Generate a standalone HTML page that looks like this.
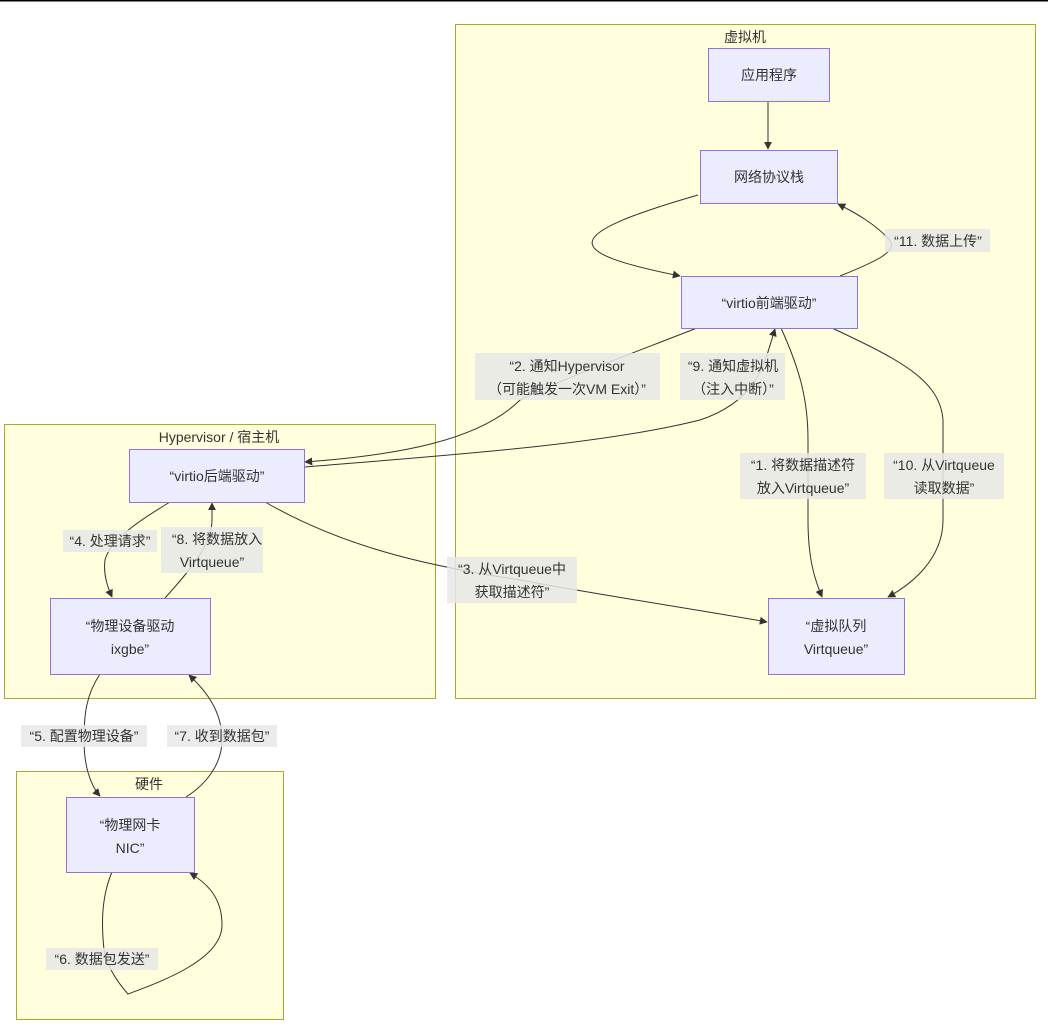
<!DOCTYPE html>
<html><head><meta charset="utf-8"><style>
html,body{margin:0;padding:0;background:#fff;}
svg{display:block;}
text{font-family:"Liberation Sans","Noto Sans CJK SC",sans-serif;font-size:14px;fill:#333;}
.c{fill:#ffffde;stroke:#aaaa33;stroke-width:1;}
.n{fill:#ececff;stroke:#9370db;stroke-width:1;}
.e{fill:none;stroke:#333;stroke-width:1;}
.lb{fill:#e8e8e8;opacity:0.85;}
</style></head><body>
<svg width="1048" height="1026" viewBox="0 0 1048 1026" xmlns="http://www.w3.org/2000/svg">
<defs><marker id="a" viewBox="0 0 10 10" refX="9" refY="5" markerWidth="8" markerHeight="8" orient="auto"><path d="M0,0L10,5L0,10z" fill="#333"/></marker></defs>
<rect x="0" y="0" width="1048" height="1.5" fill="#000"/>
<rect class="c" x="455.5" y="24.5" width="580" height="674"/>
<rect class="c" x="4.5" y="424.5" width="431" height="274"/>
<rect class="c" x="16.5" y="771.5" width="267" height="248"/>
<text x="745" y="42" text-anchor="middle">虚拟机</text>
<text x="219" y="442" text-anchor="middle">Hypervisor / 宿主机</text>
<text x="149" y="789" text-anchor="middle">硬件</text>

<path class="e" marker-end="url(#a)" d="M768,101L768,149"/>
<path class="e" marker-end="url(#a)" d="M698,195C560,235 560,252 680,276"/>
<path class="e" marker-end="url(#a)" d="M840,276C880,260 900,250 888,238C875,225 860,215 838,204"/>
<path class="e" marker-end="url(#a)" d="M697,328C620,358 560,380 520,400C480,440 400,455 305,462"/>
<path class="e" marker-end="url(#a)" d="M305,467C450,455 600,445 700,420C760,400 765,360 775,329"/>
<path class="e" marker-end="url(#a)" d="M781,328C800,370 808,400 808,440L808,520C808,560 815,580 822,597"/>
<path class="e" marker-end="url(#a)" d="M832,328C900,360 940,380 943,420L943,520C943,560 910,585 888,597"/>
<path class="e" marker-end="url(#a)" d="M265,502C340,545 420,565 520,580C600,595 700,610 767,622"/>
<path class="e" marker-end="url(#a)" d="M170,502C140,520 110,540 105,560C103,575 108,588 112,597"/>
<path class="e" marker-end="url(#a)" d="M165,598C190,570 212,545 212,520L212,503"/>
<path class="e" marker-end="url(#a)" d="M100,674C86,695 84,715 84,740C84,765 90,785 100,796"/>
<path class="e" marker-end="url(#a)" d="M186,797C205,785 222,765 222,740C222,710 205,690 189,675"/>
<path class="e" marker-end="url(#a)" d="M112,872C100,900 102,930 104,950C108,970 120,985 128,994C160,982 222,960 222,925C222,900 210,885 190,873"/>

<rect class="n" x="708.5" y="48.5" width="121" height="53"/>
<text x="769" y="80" text-anchor="middle">应用程序</text>
<rect class="n" x="700.5" y="150.5" width="137" height="53"/>
<text x="769" y="182" text-anchor="middle">网络协议栈</text>
<rect class="n" x="681.5" y="276.5" width="176" height="52"/>
<text x="769" y="308" text-anchor="middle">“virtio前端驱动”</text>
<rect class="n" x="768.5" y="598.5" width="136" height="76"/>
<text x="836" y="631" text-anchor="middle">“虚拟队列</text>
<text x="836" y="654" text-anchor="middle">Virtqueue”</text>
<rect class="n" x="129.5" y="449.5" width="175" height="53"/>
<text x="217" y="481" text-anchor="middle">“virtio后端驱动”</text>
<rect class="n" x="50.5" y="598.5" width="160" height="76"/>
<text x="130" y="631" text-anchor="middle">“物理设备驱动</text>
<text x="130" y="654" text-anchor="middle">ixgbe”</text>
<rect class="n" x="66.5" y="797.5" width="128" height="75"/>
<text x="130" y="830" text-anchor="middle">“物理网卡</text>
<text x="130" y="853" text-anchor="middle">NIC”</text>

<rect class="lb" x="885" y="229" width="105" height="23"/><text x="938" y="246" text-anchor="middle">“11. 数据上传”</text>
<rect class="lb" x="475" y="353" width="185" height="47"/><text x="567" y="371" text-anchor="middle">“2. 通知Hypervisor</text><text x="567" y="394" text-anchor="middle">（可能触发一次VM Exit）”</text>
<rect class="lb" x="680" y="353" width="105" height="47"/><text x="733" y="371" text-anchor="middle">“9. 通知虚拟机</text><text x="733" y="394" text-anchor="middle">（注入中断）”</text>
<rect class="lb" x="740" y="453" width="126" height="46"/><text x="803" y="470" text-anchor="middle">“1. 将数据描述符</text><text x="803" y="493" text-anchor="middle">放入Virtqueue”</text>
<rect class="lb" x="884" y="453" width="120" height="46"/><text x="944" y="470" text-anchor="middle">“10. 从Virtqueue</text><text x="944" y="493" text-anchor="middle">读取数据”</text>
<rect class="lb" x="447" y="557" width="130" height="46"/><text x="512" y="574" text-anchor="middle">“3. 从Virtqueue中</text><text x="512" y="597" text-anchor="middle">获取描述符”</text>
<rect class="lb" x="63" y="530" width="94" height="22"/><text x="110" y="546" text-anchor="middle">“4. 处理请求”</text>
<rect class="lb" x="161" y="527" width="102" height="46"/><text x="217" y="544" text-anchor="middle">“8. 将数据放入</text><text x="212" y="567" text-anchor="middle">Virtqueue”</text>
<rect class="lb" x="21" y="725" width="126" height="22"/><text x="84" y="741" text-anchor="middle">“5. 配置物理设备”</text>
<rect class="lb" x="167" y="725" width="110" height="22"/><text x="222" y="741" text-anchor="middle">“7. 收到数据包”</text>
<rect class="lb" x="46" y="948" width="112" height="22"/><text x="102" y="964" text-anchor="middle">“6. 数据包发送”</text>
</svg>
</body></html>
